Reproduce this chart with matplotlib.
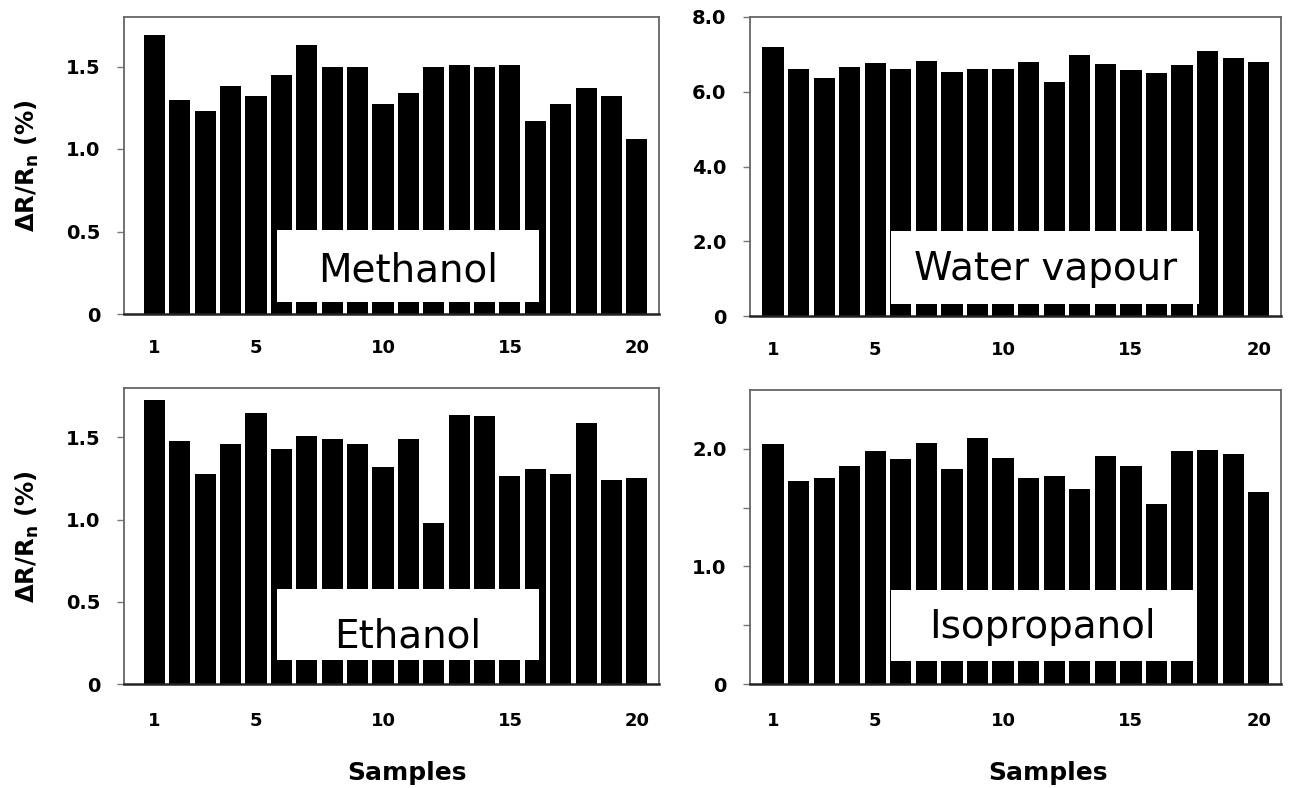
import matplotlib.pyplot as plt
import numpy as np
from matplotlib.patches import Rectangle

plt.rcParams['font.family'] = ['DejaVu Sans']
plt.rcParams['mathtext.default'] = 'regular'

# sample numbers and responses (dR/Rn in %)
samples = np.arange(1, 21)
methanol = [1.69, 1.30, 1.23, 1.38, 1.32, 1.45, 1.63, 1.50, 1.50, 1.27,
            1.34, 1.50, 1.51, 1.50, 1.51, 1.17, 1.27, 1.37, 1.32, 1.06]
water = [7.19, 6.62, 6.38, 6.65, 6.77, 6.62, 6.83, 6.54, 6.62, 6.62,
         6.80, 6.25, 6.99, 6.74, 6.58, 6.51, 6.71, 7.10, 6.90, 6.80]
ethanol = [1.73, 1.48, 1.28, 1.46, 1.645, 1.43, 1.51, 1.49, 1.46, 1.32,
           1.49, 0.98, 1.635, 1.63, 1.265, 1.31, 1.28, 1.59, 1.24, 1.25]
isopropanol = [2.04, 1.73, 1.75, 1.85, 1.98, 1.91, 2.05, 1.83, 2.09, 1.92,
               1.75, 1.77, 1.66, 1.94, 1.85, 1.53, 1.98, 1.99, 1.96, 1.63]

xticks = [1, 5, 10, 15, 20]
xticklabels = ['1', '5', '10', '15', '20']
alc_ticks = [0, 0.5, 1.0, 1.5]
alc_ticklabels = ['0', '0.5', '1.0', '1.5']
water_ticks = [0, 2, 4, 6, 8]
water_ticklabels = ['0', '2.0', '4.0', '6.0', '8.0']
iso_ticks = [0, 0.5, 1.0, 1.5, 2.0]
iso_ticklabels = ['0', '', '1.0', '', '2.0']

W, H = 1293, 788
fig = plt.figure(figsize=(W / 100, H / 100), dpi=100)


def panel(rect, values, ylim, yticks, ylabels, xlim, name, box, text_xy, xpad):
    l, t, r, b = rect
    ax = fig.add_axes([l / W, (H - b) / H, (r - l) / W, (b - t) / H])
    ax.bar(samples, values, width=0.83, color='black', zorder=2)
    ax.set_xlim(*xlim)
    ax.set_ylim(*ylim)
    ax.set_yticks(yticks)
    ax.set_yticklabels(ylabels)
    ax.set_xticks(xticks)
    ax.set_xticklabels(xticklabels)
    ax.tick_params(axis='x', length=0, pad=xpad, labelsize=13)
    ax.tick_params(axis='y', length=5, width=1, color='#777777', pad=12,
                   labelsize=14)
    for lab in ax.get_xticklabels() + ax.get_yticklabels():
        lab.set_fontweight('bold')
    for s in ['top', 'right', 'left']:
        ax.spines[s].set_color('#666666')
        ax.spines[s].set_linewidth(1.3)
    ax.spines['bottom'].set_color('#222222')
    ax.spines['bottom'].set_linewidth(1.8)
    ax.add_patch(Rectangle((box[0], box[1]), box[2] - box[0], box[3] - box[1],
                           transform=ax.transAxes, facecolor='white',
                           edgecolor='none', zorder=3))
    ax.text(text_xy[0], text_xy[1], name, transform=ax.transAxes,
            ha='center', va='baseline', fontsize=28, zorder=4)
    return ax


panel((124, 17, 659, 314), methanol, (0, 1.8), alc_ticks, alc_ticklabels,
      (-0.2, 20.87), 'Methanol', (0.286, 0.04, 0.776, 0.283), (0.531, 0.11), 18)
panel((750, 17, 1281, 316), water, (0, 8), water_ticks, water_ticklabels,
      (0.1, 20.87), 'Water vapour', (0.266, 0.04, 0.846, 0.283), (0.556, 0.12), 18)
panel((124, 388, 659, 684), ethanol, (0, 1.8), alc_ticks, alc_ticklabels,
      (-0.2, 20.87), 'Ethanol', (0.286, 0.081, 0.776, 0.321), (0.531, 0.125), 20)
panel((750, 390, 1281, 684), isopropanol, (0, 2.5), iso_ticks, iso_ticklabels,
      (0.1, 20.87), 'Isopropanol', (0.266, 0.078, 0.837, 0.32), (0.551, 0.156), 20)

ylab = r'ΔR/R$_\mathregular{n}$ (%)'
fig.text(27 / W, (H - 166) / H, ylab, rotation=90, ha='center', va='center',
         fontsize=17.5, fontweight='bold')
fig.text(27 / W, (H - 537) / H, ylab, rotation=90, ha='center', va='center',
         fontsize=17.5, fontweight='bold')
fig.text(407 / W, (H - 780) / H, 'Samples', ha='center', va='baseline',
         fontsize=18, fontweight='bold')
fig.text(1048 / W, (H - 780) / H, 'Samples', ha='center', va='baseline',
         fontsize=18, fontweight='bold')

fig.savefig('out.png', dpi=100)
